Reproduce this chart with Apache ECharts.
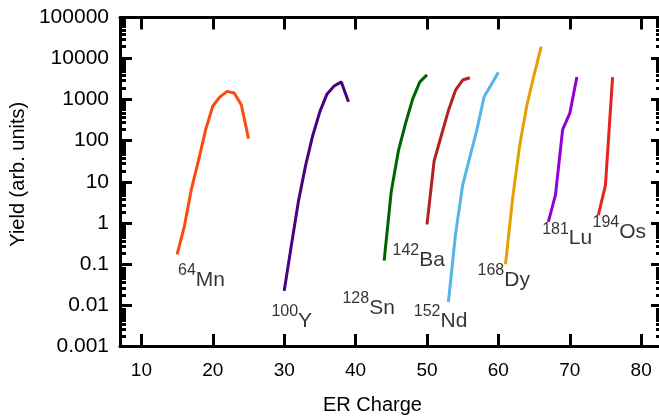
<!DOCTYPE html>
<html><head><meta charset="utf-8">
<script src="https://cdn.jsdelivr.net/npm/echarts@6/dist/echarts.min.js"></script>
<style>html,body{margin:0;padding:0;background:#fff}#c{width:659px;height:420px}</style>
</head><body><div id="c"></div>
<script>
// ---- data ----
const xMin = 7, xMax = 82.5;
const xTickValues = [10, 20, 30, 40, 50, 60, 70, 80];
const yTickValues = [0.001, 0.01, 0.1, 1, 10, 100, 1000, 10000, 100000];
const yTickLabels = ['0.001', '0.01', '0.1', '1', '10', '100', '1000', '10000', '100000'];

const chargeMn = [15, 16, 17, 18, 19, 20, 21, 22, 23, 24, 25];
const yieldMn  = [0.17, 0.8, 6.6, 33, 186, 700, 1170, 1590, 1450, 740, 112];
const chargeY  = [30, 31, 32, 33, 34, 35, 36, 37, 38, 39];
const yieldY   = [0.022, 0.28, 3.4, 25, 134, 510, 1380, 2150, 2700, 890];
const chargeSn = [44, 45, 46, 47, 48, 49, 50];
const yieldSn  = [0.12, 5.9, 57, 265, 1040, 2700, 4000];
const chargeBa = [50, 51, 52, 53, 54, 55, 56];
const yieldBa  = [0.91, 32, 132, 540, 1700, 3000, 3400];
const chargeNd = [53, 54, 55, 56, 57, 58, 59, 60];
const yieldNd  = [0.0118, 0.53, 8.3, 40, 187, 1170, 2300, 4650];
const chargeDy = [61, 62, 63, 64, 65, 66];
const yieldDy  = [0.098, 4, 80, 740, 4000, 19500];
const chargeLu = [67, 68, 69, 70, 71];
const yieldLu  = [1.06, 4.8, 185, 460, 3550];
const chargeOs = [74, 75, 76];
const yieldOs  = [1.53, 8.3, 3550];

// isotope annotation anchors (data coords of label's left-middle)
const labelMass = ['64', '100', '128', '142', '152', '168', '181', '194'];
const labelElem = ['Mn', 'Y', 'Sn', 'Ba', 'Nd', 'Dy', 'Lu', 'Os'];
const labelX    = [15.13, 28.21, 38.16, 45.17, 48.15, 57.08, 66.13, 73.19];
const labelY    = [0.049, 0.00485, 0.0102, 0.149, 0.00485, 0.049, 0.5, 0.724];

// ---- styling ----
const FONT = 'Liberation Sans, Arial, sans-serif';
const colors = ['#ff4a0f', '#4b0082', '#006400', '#b22222', '#56b4e9', '#e69f00', '#9400d3', '#e8221c'];
const seriesDefs = [
  [chargeMn, yieldMn], [chargeY, yieldY], [chargeSn, yieldSn], [chargeBa, yieldBa],
  [chargeNd, yieldNd], [chargeDy, yieldDy], [chargeLu, yieldLu], [chargeOs, yieldOs]
];
const minorVals = [];
for (let d = -3; d < 5; d++) for (let k = 2; k <= 9; k++) minorVals.push(k * Math.pow(10, d));

const gridRect = {left: 120, right: 0, top: 17.5, bottom: 71};
const lineCol = '#000';

function xAx(gi, pos, show) {
  return {
    type: 'value', gridIndex: gi, position: pos, min: xMin, max: xMax,
    splitLine: {show: false},
    axisLine: {show: show, lineStyle: {color: lineCol, width: 3}},
    axisTick: {show: show, inside: true, length: 12, customValues: xTickValues, lineStyle: {color: lineCol, width: 3}},
    axisLabel: {show: false}
  };
}
function yAx(gi, pos, major) {
  const right = pos === 'right';
  return {
    type: 'log', logBase: 10, gridIndex: gi, position: pos, min: 0.001, max: 100000,
    splitLine: {show: false},
    axisLine: {show: major && !right, lineStyle: {color: lineCol, width: 3}},
    axisTick: {show: true, inside: true, length: right ? (major ? 8 : 3) : (major ? 12 : 6),
      customValues: major ? yTickValues : minorVals, lineStyle: {color: lineCol, width: 3}},
    axisLabel: {show: false}
  };
}

const xAxes = [xAx(0, 'bottom', true), xAx(0, 'top', true), xAx(1, 'bottom', false), xAx(1, 'top', false)];
xAxes[0].axisLabel = {show: true, customValues: xTickValues, margin: 15, color: '#000', fontSize: 19, fontFamily: FONT};
xAxes[0].name = 'ER Charge';
xAxes[0].nameLocation = 'middle';
xAxes[0].nameGap = 49;
xAxes[0].nameTextStyle = {color: '#000', fontSize: 20, fontFamily: FONT, padding: [0, 34, 0, 0]};

const yAxes = [yAx(0, 'left', true), yAx(0, 'right', true), yAx(1, 'left', false), yAx(1, 'right', false)];
yAxes[0].axisLabel = {show: true, customValues: yTickValues, margin: 11, color: '#000', fontSize: 21, fontFamily: FONT,
  formatter: v => yTickLabels[Math.round(Math.log10(v)) + 3]};
yAxes[0].name = 'Yield (arb. units)';
yAxes[0].nameLocation = 'middle';
yAxes[0].nameGap = 90;
yAxes[0].nameTextStyle = {color: '#000', fontSize: 20, fontFamily: FONT, padding: [0, 0, 0, 15]};

const series = seriesDefs.map((s, i) => ({
  type: 'line', xAxisIndex: 0, yAxisIndex: 0, showSymbol: false, symbol: 'none',
  lineStyle: {color: colors[i], width: 3}, itemStyle: {color: colors[i]},
  data: s[0].map((x, j) => [x, s[1][j]])
}));
series.push({
  type: 'scatter', xAxisIndex: 0, yAxisIndex: 0, symbolSize: 0, silent: true,
  data: labelX.map((x, i) => ({value: [x, labelY[i]], name: i})),
  label: {
    show: true, position: 'right', distance: 0,
    formatter: p => '{s|' + labelMass[p.dataIndex] + '}{m|' + labelElem[p.dataIndex] + '}',
    rich: {
      s: {fontSize: 16, fontFamily: FONT, color: '#000', lineHeight: 16, verticalAlign: 'top'},
      m: {fontSize: 21, fontFamily: FONT, color: '#000', lineHeight: 28, verticalAlign: 'bottom'}
    }
  }
});

const chart = echarts.init(document.getElementById('c'), null, {renderer: 'canvas'});
chart.setOption({
  animation: false,
  backgroundColor: '#fff',
  grid: [Object.assign({}, gridRect), Object.assign({}, gridRect)],
  xAxis: xAxes,
  yAxis: yAxes,
  series: series
});
</script></body></html>
